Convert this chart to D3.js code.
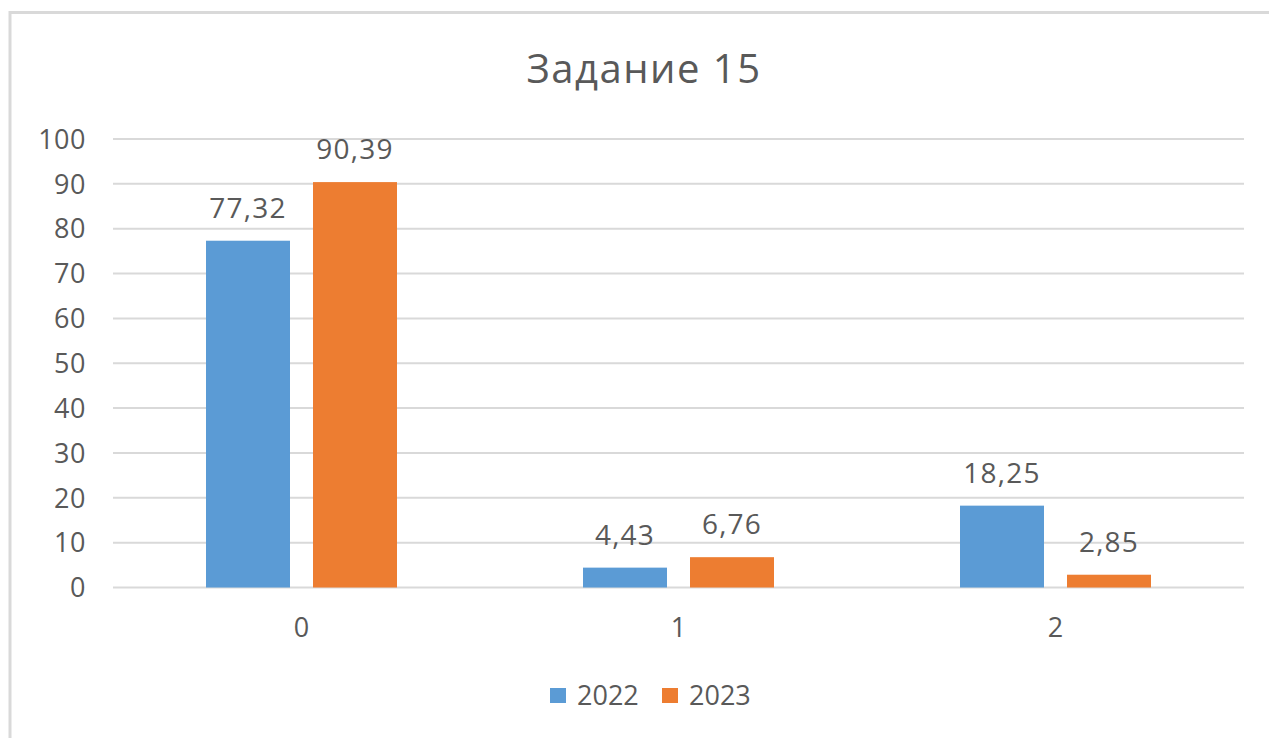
<!DOCTYPE html>
<html>
<head>
<meta charset="utf-8">
<script src="https://cdn.jsdelivr.net/npm/d3@7"></script>
<style>
  body { margin: 0; background: #fff; }
  text { font-family: "Open Sans", sans-serif; fill: #595959; }
</style>
</head>
<body>
<div id="chart"></div>
<script>
// ------------------------------------------------------
// Chart data
const categories = ['0', '1', '2']
const series = ['2022', '2023']
const values2022 = [77.32, 4.43, 18.25]
const values2023 = [90.39, 6.76, 2.85]
const yTicks = [0, 10, 20, 30, 40, 50, 60, 70, 80, 90, 100]
const colors = ['#5b9bd5', '#ed7d31']

const width = 1269
const height = 738

const svg = d3.select('#chart')
	.append('svg')
	.attr('width', width)
	.attr('height', height)

// Outer chart frame
svg.append('rect')
	.attr('x', 10)
	.attr('y', 12.5)
	.attr('width', 1300)
	.attr('height', 800)
	.attr('fill', 'none')
	.attr('stroke', '#d9d9d9')
	.attr('stroke-width', 3)

// Scales
const plot = { left: 113, right: 1244, top: 139, bottom: 587.5 }

const x0 = d3.scaleBand()
	.domain(categories)
	.range([plot.left, plot.right])

const x1 = d3.scaleBand()
	.domain(series)
	.range([93, 284])
	.paddingInner(0.215)

const y = d3.scaleLinear()
	.domain([0, 100])
	.range([plot.bottom, plot.top])

// Gridlines
svg.append('g')
	.selectAll('line')
	.data(yTicks)
	.enter()
	.append('line')
	.attr('x1', plot.left)
	.attr('x2', plot.right)
	.attr('y1', d => y(d))
	.attr('y2', d => y(d))
	.attr('stroke', '#d9d9d9')
	.attr('stroke-width', 2)

// Y axis labels
svg.append('g')
	.selectAll('text')
	.data(yTicks)
	.enter()
	.append('text')
	.attr('x', 86)
	.attr('y', d => y(d))
	.attr('dy', '0.36em')
	.attr('text-anchor', 'end')
	.attr('font-size', 27)
	.attr('letter-spacing', 0.5)
	.text(d => d)

// X axis labels
svg.append('g')
	.selectAll('text')
	.data(categories)
	.enter()
	.append('text')
	.attr('x', d => x0(d) + x0.bandwidth() / 2)
	.attr('y', 637)
	.attr('text-anchor', 'middle')
	.attr('font-size', 27)
	.text(d => d)

// Bars and data labels
const rows = categories.map((c, i) => ({
	cat: c,
	vals: [
		{ s: series[0], v: values2022[i] },
		{ s: series[1], v: values2023[i] }
	]
}))

const groups = svg.append('g')
	.selectAll('g')
	.data(rows)
	.enter()
	.append('g')
	.attr('transform', d => `translate(${x0(d.cat)},0)`)

groups.selectAll('rect')
	.data(d => d.vals)
	.enter()
	.append('rect')
	.attr('x', d => x1(d.s))
	.attr('y', d => y(d.v))
	.attr('width', x1.bandwidth())
	.attr('height', d => y(0) - y(d.v))
	.attr('fill', (d, i) => colors[i])

groups.selectAll('text')
	.data(d => d.vals)
	.enter()
	.append('text')
	.attr('x', d => x1(d.s) + x1.bandwidth() / 2)
	.attr('y', d => y(d.v) - 23)
	.attr('text-anchor', 'middle')
	.attr('font-size', 28)
	.attr('letter-spacing', 1.2)
	.text(d => d.v.toFixed(2).replace('.', ','))

// Title
svg.append('text')
	.attr('x', 644)
	.attr('y', 83)
	.attr('text-anchor', 'middle')
	.attr('font-size', 40)
	.attr('letter-spacing', 1.5)
	.text('Задание 15')

// Legend
const legendX = [550, 662]
const legend = svg.append('g')
	.selectAll('g')
	.data(series)
	.enter()
	.append('g')
	.attr('transform', (d, i) => `translate(${legendX[i]},688)`)

legend.append('rect')
	.attr('width', 16)
	.attr('height', 15)
	.attr('fill', (d, i) => colors[i])

legend.append('text')
	.attr('x', 27)
	.attr('y', 17)
	.attr('font-size', 27)
	.text(d => d)
</script>
</body>
</html>
